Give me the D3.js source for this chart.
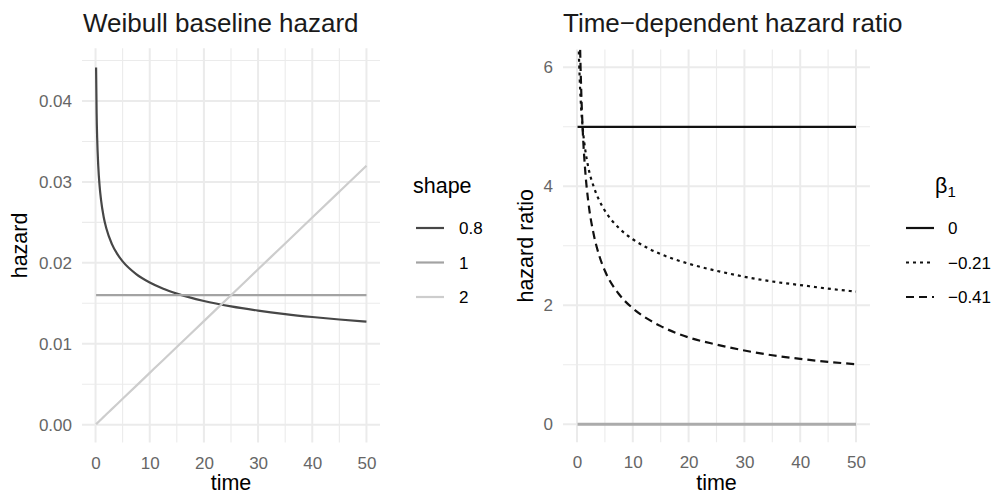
<!DOCTYPE html>
<html><head><meta charset="utf-8">
<script src="https://cdn.jsdelivr.net/npm/d3@7"></script>
<style>body{margin:0;background:#fff} text{font-family:"Liberation Sans",Arial,Helvetica,sans-serif}</style>
</head><body><svg id="c" width="992" height="494"></svg>
<script>
// ---- data ----
const times = [0.1,0.2,0.3,0.5,0.75,1,1.5,2,3,4,5,7.5,10,12.5,15,20,25,30,35,40,45,50];
const shape08 = [0.04413,0.03841,0.03542,0.03198,0.02949,0.02784,0.02567,0.02424,0.02235,0.02110,0.02018,0.01861,0.01757,0.01680,0.01620,0.01529,0.01462,0.01410,0.01367,0.01331,0.01300,0.01273];
const shape1  = [0.016,0.016,0.016,0.016,0.016,0.016,0.016,0.016,0.016,0.016,0.016,0.016,0.016,0.016,0.016,0.016,0.016,0.016,0.016,0.016,0.016,0.016];
const shape2  = [0.00006,0.00013,0.00019,0.00032,0.00048,0.00064,0.00096,0.00128,0.00192,0.00256,0.0032,0.0048,0.0064,0.008,0.0096,0.0128,0.016,0.0192,0.0224,0.0256,0.0288,0.032];
const shapeLabels = ["0.8","1","2"];

const hrBeta0    = [5,5,5,5,5,5,5,5,5,5,5,5,5,5,5,5,5,5,5,5,5,5];
const hrBetaM021 = [8.03,6.97,6.41,5.77,5.31,5.00,4.60,4.33,3.99,3.76,3.59,3.30,3.11,2.97,2.86,2.70,2.58,2.48,2.40,2.34,2.28,2.23];
const hrBetaM041 = [12.85,9.67,8.19,6.64,5.63,5.00,4.23,3.76,3.19,2.83,2.58,2.19,1.95,1.78,1.65,1.46,1.34,1.24,1.16,1.10,1.05,1.01];
const hrZero     = [0,0,0,0,0,0,0,0,0,0,0,0,0,0,0,0,0,0,0,0,0,0];
const betaLabels = ["0","\u22120.21","\u22120.41"];

const xTicks = [0,10,20,30,40,50];
const xMinor = [5,15,25,35,45];
const leftYTicks = [0,0.01,0.02,0.03,0.04];
const leftYTickLabels = ["0.00","0.01","0.02","0.03","0.04"];
const leftYMinor = [0.005,0.015,0.025,0.035,0.045];
const rightYTicks = [0,2,4,6];
const rightYMinor = [1,3,5];

// ---- drawing ----
const svg = d3.select("#c");
const FONT_TICK = 17, FONT_AXIS = 21.5, FONT_TITLE = 26;
const gridCol = "#ebebeb";
const tickCol = "#666666";

function panel(opts){
  const {x, y, xMinorT, yTicks, yLabels, yMinorT, title, titleX, ylab, ylabX, id} = opts;
  const g = svg.append("g");
  const [x0,x1] = x.range(), [y1,y0] = y.range();
  g.selectAll(null).data(xMinorT).enter().append("line")
    .attr("x1",d=>x(d)).attr("x2",d=>x(d)).attr("y1",y0).attr("y2",y1)
    .attr("stroke",gridCol).attr("stroke-width",1.1);
  g.selectAll(null).data(yMinorT).enter().append("line")
    .attr("y1",d=>y(d)).attr("y2",d=>y(d)).attr("x1",x0).attr("x2",x1)
    .attr("stroke",gridCol).attr("stroke-width",1.1);
  g.selectAll(null).data(xTicks).enter().append("line")
    .attr("x1",d=>x(d)).attr("x2",d=>x(d)).attr("y1",y0).attr("y2",y1)
    .attr("stroke",gridCol).attr("stroke-width",2);
  g.selectAll(null).data(yTicks).enter().append("line")
    .attr("y1",d=>y(d)).attr("y2",d=>y(d)).attr("x1",x0).attr("x2",x1)
    .attr("stroke",gridCol).attr("stroke-width",2);
  const xa = g.append("g").attr("transform",`translate(0,${y1})`)
    .call(d3.axisBottom(x).tickValues(xTicks).tickSize(0).tickPadding(14).tickFormat(d3.format("d")));
  xa.select(".domain").remove();
  xa.selectAll("text").attr("font-size",FONT_TICK).attr("fill",tickCol).attr("font-family",null);
  const ya = g.append("g").attr("transform",`translate(${x0},0)`)
    .call(d3.axisLeft(y).tickValues(yTicks).tickSize(0).tickPadding(10).tickFormat((d,i)=>yLabels[i]));
  ya.select(".domain").remove();
  ya.selectAll("text").attr("font-size",FONT_TICK).attr("fill",tickCol).attr("font-family",null);
  svg.append("text").attr("x",titleX).attr("y",32).attr("font-size",FONT_TITLE).attr("fill","#1a1a1a").text(title);
  svg.append("text").attr("x",(x0+x1)/2).attr("y",490).attr("text-anchor","middle").attr("font-size",FONT_AXIS).attr("fill","#000").text("time");
  svg.append("text").attr("transform",`translate(${ylabX},${(y0+y1)/2}) rotate(-90)`).attr("text-anchor","middle")
    .attr("font-size",FONT_AXIS).attr("fill","#000").text(ylab);
  svg.append("clipPath").attr("id",id).append("rect").attr("x",x0).attr("y",y0).attr("width",x1-x0).attr("height",y1-y0);
  return svg.append("g").attr("clip-path",`url(#${id})`);
}

// Left panel
const xL = d3.scaleLinear().domain([-2.5,52.5]).range([82,380]);
const yL = d3.scaleLinear().domain([-0.002215,0.046515]).range([442.6,48.3]);
const gL = panel({x:xL,y:yL,xMinorT:xMinor,yTicks:leftYTicks,yLabels:leftYTickLabels,yMinorT:leftYMinor,
  title:"Weibull baseline hazard",titleX:83,ylab:"hazard",ylabX:27,id:"clipL"});
const shapeSeries = [
  {vals:shape08, color:"#474747"},
  {vals:shape1, color:"#a3a3a3"},
  {vals:shape2, color:"#cdcdcd"}
];
const lineL = d3.line().curve(d3.curveMonotoneX).x((d,i)=>xL(times[i])).y(d=>yL(d));
shapeSeries.forEach(s=>{
  gL.append("path").attr("d",lineL(s.vals)).attr("fill","none").attr("stroke",s.color).attr("stroke-width",2.2);
});
svg.append("text").attr("x",413).attr("y",193).attr("font-size",FONT_AXIS).attr("fill","#000").text("shape");
const legRows = [228,262.5,297];
shapeSeries.forEach((s,i)=>{
  svg.append("line").attr("x1",416).attr("x2",444).attr("y1",legRows[i]).attr("y2",legRows[i])
    .attr("stroke",s.color).attr("stroke-width",2.2);
  svg.append("text").attr("x",459).attr("y",legRows[i]).attr("dy","0.36em").attr("font-size",FONT_TICK).attr("fill","#000").text(shapeLabels[i]);
});

// Right panel
const xR = d3.scaleLinear().domain([-2.5,52.5]).range([563.05,869.95]);
const yR = d3.scaleLinear().domain([-0.3,6.3]).range([442.15,49.45]);
const gR = panel({x:xR,y:yR,xMinorT:xMinor,yTicks:rightYTicks,yLabels:rightYTicks.map(String),yMinorT:rightYMinor,
  title:"Time\u2212dependent hazard ratio",titleX:563,ylab:"hazard ratio",ylabX:533,id:"clipR"});
const lineR = d3.line().curve(d3.curveMonotoneX).x((d,i)=>xR(times[i])).y(d=>yR(d));
gR.append("path").attr("d",lineR(hrZero)).attr("fill","none").attr("stroke","#ababab").attr("stroke-width",3);
const betaSeries = [
  {vals:hrBeta0, dash:null},
  {vals:hrBetaM021, dash:"3,4"},
  {vals:hrBetaM041, dash:"8,5"}
];
betaSeries.forEach(s=>{
  gR.append("path").attr("d",lineR(s.vals)).attr("fill","none").attr("stroke","#111")
    .attr("stroke-width",2.2).attr("stroke-dasharray",s.dash);
});
const bt = svg.append("text").attr("x",935).attr("y",193).attr("font-size",FONT_AXIS).attr("fill","#000");
bt.append("tspan").text("\u03b2");
bt.append("tspan").attr("dy",4).attr("font-size",15).text("1");
betaSeries.forEach((s,i)=>{
  svg.append("line").attr("x1",906).attr("x2",934).attr("y1",legRows[i]).attr("y2",legRows[i])
    .attr("stroke","#111").attr("stroke-width",2.2).attr("stroke-dasharray",s.dash);
  svg.append("text").attr("x",948).attr("y",legRows[i]).attr("dy","0.36em").attr("font-size",FONT_TICK).attr("fill","#000").text(betaLabels[i]);
});
</script></body></html>
